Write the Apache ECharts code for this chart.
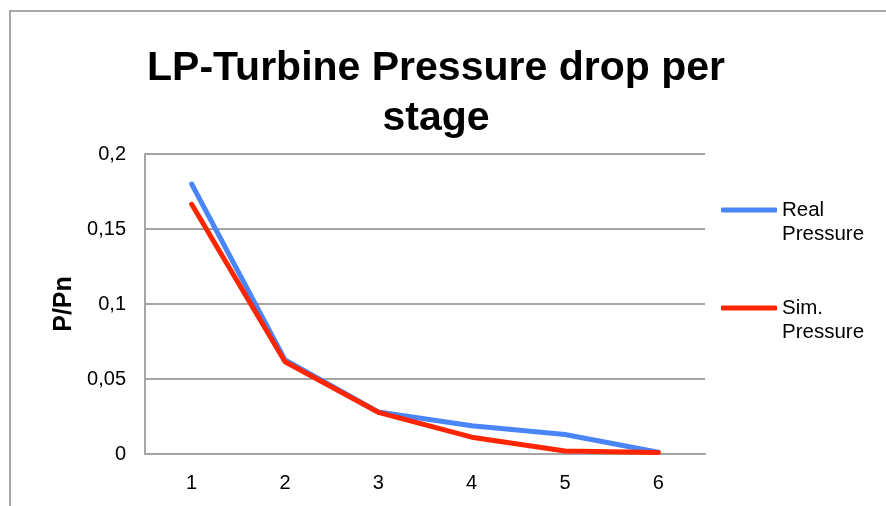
<!DOCTYPE html>
<html>
<head>
<meta charset="utf-8">
<script src="https://cdn.jsdelivr.net/npm/echarts@6/dist/echarts.min.js"></script>
<style>
  html, body { margin: 0; padding: 0; background: #fff; }
  #frame {
    position: absolute; left: 9px; top: 10px; right: -2px; bottom: -2px;
    border-top: 2px solid #a8a8a8; border-left: 2px solid #a8a8a8;
  }
  #chart { position: absolute; left: 0; top: 0; width: 886px; height: 506px; }
</style>
</head>
<body>
<div id="frame"></div>
<div id="chart"></div>
<script>
const stages = ['1', '2', '3', '4', '5', '6']
const realPressure = [0.18, 0.0627, 0.0280, 0.0188, 0.0130, 0.0012]
const simPressure = [0.1665, 0.0615, 0.0278, 0.0112, 0.0020, 0.0010]
const seriesNames = ['Real Pressure', 'Sim. Pressure']

const font = 'Liberation Sans, Arial, Helvetica, sans-serif'
const chart = echarts.init(document.getElementById('chart'))

chart.setOption({
  animation: false,
  textStyle: { fontFamily: font },
  title: {
    text: 'LP-Turbine Pressure drop per\nstage',
    left: 431,
    top: 39,
    textAlign: 'center',
    textStyle: {
      fontFamily: font,
      fontSize: 41,
      fontWeight: 'bold',
      color: '#000',
      lineHeight: 50
    }
  },
  legend: {
    orient: 'vertical',
    left: 716,
    top: 169,
    itemWidth: 56,
    itemHeight: 5,
    itemGap: 26,
    icon: 'roundRect',
    // empty first line so the icon sits beside the first word
    formatter: name => '\n' + name.replace(' ', '\n'),
    textStyle: {
      fontFamily: font,
      fontSize: 20.5,
      color: '#000',
      lineHeight: 24
    },
    data: seriesNames
  },
  grid: { left: 145, right: 181, top: 154, bottom: 52 },
  xAxis: {
    type: 'category',
    data: stages,
    boundaryGap: true,
    axisLine: { lineStyle: { color: '#a5a5a5', width: 2 } },
    axisTick: { show: false },
    axisLabel: { color: '#000', fontSize: 20, margin: 19 }
  },
  yAxis: {
    type: 'value',
    min: 0,
    max: 0.2,
    interval: 0.05,
    name: 'P/Pn',
    nameLocation: 'middle',
    nameGap: 68,
    nameTextStyle: { fontFamily: font, fontSize: 25, fontWeight: 'bold', color: '#000' },
    axisLine: { show: true, lineStyle: { color: '#a5a5a5', width: 2 } },
    axisTick: { show: false },
    splitLine: { lineStyle: { color: '#a5a5a5', width: 2 } },
    axisLabel: {
      color: '#000',
      fontSize: 20,
      margin: 19,
      formatter: v => String(v).replace('.', ',')
    }
  },
  series: [
    {
      name: seriesNames[0],
      type: 'line',
      data: realPressure,
      symbol: 'none',
      color: '#4a86f8',
      lineStyle: { width: 5, cap: 'round', join: 'round' }
    },
    {
      name: seriesNames[1],
      type: 'line',
      data: simPressure,
      symbol: 'none',
      color: '#ff2500',
      lineStyle: { width: 5, cap: 'round', join: 'round' }
    }
  ]
})
</script>
</body>
</html>
